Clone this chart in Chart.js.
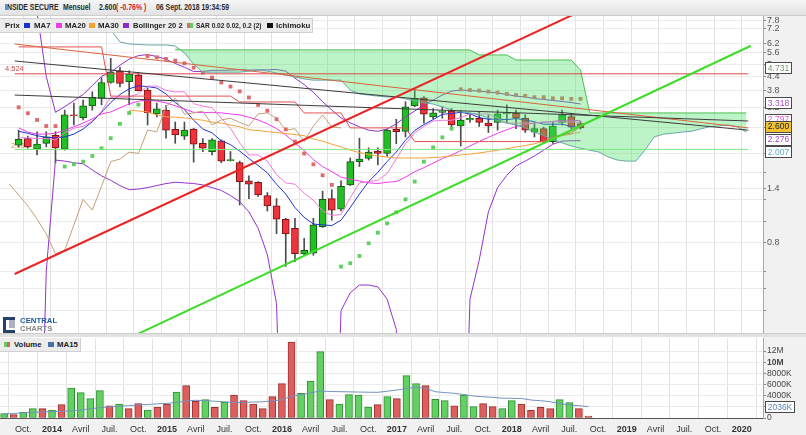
<!DOCTYPE html>
<html lang="fr"><head><meta charset="utf-8"><title>INSIDE SECURE - Mensuel</title>
<script src="https://cdn.jsdelivr.net/npm/chart.js@4.4.1/dist/chart.umd.min.js"></script>
<style>
html,body{margin:0;padding:0}
body{width:806px;height:435px;overflow:hidden;background:#fff;position:relative;font-family:"Liberation Sans",Arial,sans-serif}
canvas{position:absolute;left:0}
#cMain{top:0}
#cVol{top:337px}
.ov{position:absolute;white-space:nowrap}
#hdr{left:0;top:0;width:806px;height:15px;background:linear-gradient(#f6f6f6,#e2e2e2);border-bottom:1px solid #cdcdcd;font-size:8.2px;font-weight:bold;color:#2b2b2b}
#hdr span{position:absolute;top:2.5px;transform:scaleX(0.84);transform-origin:0 0}
#leg{left:0;top:18px;width:312px;height:13px;background:#ececec;border:1px solid #d0d0d0;border-left:none;font-size:7.8px;font-weight:bold;color:#222}
#leg span,#vleg span{position:absolute;top:2px;transform-origin:0 0}
#leg i,#vleg i{position:absolute;top:4px;width:6px;height:5px;display:block}
#sep{left:0;top:333px;width:806px;height:3px;background:#e2e2e2;border-top:1px solid #cdcdcd}
#vleg{left:0;top:338px;width:80px;height:13px;background:#ececec;border:1px solid #d0d0d0;border-left:none;border-top:none;font-size:7.8px;font-weight:bold;color:#222}
#logo{left:3px;top:316px;width:60px;height:16px}
</style></head>
<body>
<canvas id="cMain" width="806" height="335"></canvas>
<canvas id="cVol" width="806" height="98"></canvas>
<div id="sep" class="ov"></div>
<div id="hdr" class="ov">
 <span style="left:5px">INSIDE SECURE</span>
 <span style="left:63px">Mensuel</span>
 <span style="left:99px">2.600</span>
 <span style="left:116px;color:#d02020">( -0.76% )</span>
 <span style="left:156px">06 Sept. 2018 19:34:59</span>
</div>
<div id="leg" class="ov">
 <span style="left:5px">Prix</span>
 <i style="left:24px;background:#1a2fd0"></i><span style="left:34px">MA7</span>
 <i style="left:56px;background:#f03cf0"></i><span style="left:65px">MA20</span>
 <i style="left:89px;background:#f5a030"></i><span style="left:98px">MA30</span>
 <i style="left:123px;background:#8a2cc8"></i><span style="left:133px;transform:scaleX(0.97)">Bollinger 20 2</span>
 <i style="left:187px;background:linear-gradient(90deg,#e06a6a 50%,#5fcf5f 50%)"></i><span style="left:196px;transform:scaleX(0.84)">SAR 0.02 0.02, 0.2 (2)</span>
 <i style="left:267px;background:#111"></i><span style="left:276px">Ichimoku</span>
</div>
<div id="vleg" class="ov">
 <i style="left:4px;background:linear-gradient(90deg,#5fcf5f 50%,#df5f5f 50%)"></i><span style="left:14px">Volume</span>
 <i style="left:48px;background:#4a6fa5"></i><span style="left:57px">MA15</span>
</div>
<div id="logo" class="ov">
 <div style="position:absolute;left:0;top:1px;width:9px;height:10px;border:3px solid #25426c;border-right:none"></div>
 <div style="position:absolute;left:6px;top:4px;width:6px;height:8px;background:#aab3bf"></div>
 <span style="position:absolute;left:17px;top:0;font:bold 7.8px 'Liberation Sans',Arial;color:#1f5a9a">CENTRAL</span>
 <span style="position:absolute;left:17px;top:8px;font:bold 7.8px 'Liberation Sans',Arial;color:#8a8a8a">CHARTS</span>
</div>
<script>
// ---------- DATA (monthly, index 0 = Aug 2013 ... 61 = Sept 2018) ----------
const opens  = [2.18,2.33,2.09,2.22,2.41,2.09,2.97,2.89,3.26,3.52,4.14,4.65,4.17,4.47,3.83,3.00,3.12,2.56,2.39,2.57,2.22,2.04,2.28,1.86,1.82,1.51,1.49,1.30,1.17,1.02,0.93,0.714,0.721,0.946,1.26,1.13,1.45,1.84,1.90,2.05,2.00,2.56,2.51,3.26,3.54,2.91,3.05,3.09,2.65,2.82,2.87,2.73,2.75,3.01,3.02,2.87,2.49,2.58,2.26,2.75,2.92,2.72];
const highs  = [2.54,2.39,2.50,2.50,2.50,3.12,3.35,3.46,3.76,4.35,5.30,4.83,4.66,4.57,3.92,3.35,3.27,2.76,2.76,2.59,2.33,2.33,2.30,2.04,1.85,1.59,1.50,1.34,1.26,1.03,1.03,0.838,1.03,1.36,1.38,1.51,1.91,2.34,2.12,2.12,2.56,2.84,3.40,3.83,3.58,3.17,3.23,3.17,3.12,3.01,3.07,2.97,3.12,3.29,3.12,2.97,2.75,2.62,2.78,3.12,3.02,2.78];
const lows   = [2.14,2.11,1.97,2.14,1.82,2.07,2.68,2.82,3.12,3.29,4.11,3.96,3.29,3.80,2.68,2.91,2.34,2.22,2.31,1.83,2.04,1.97,1.82,1.85,1.18,1.26,1.29,1.11,0.88,0.629,0.661,0.709,0.705,0.937,1.01,1.11,1.44,1.75,1.87,1.78,1.94,2.21,2.37,3.23,2.73,2.86,2.87,2.62,2.16,2.75,2.64,2.48,2.54,2.75,2.58,2.48,2.37,2.24,2.22,2.68,2.58,2.57];
const closes = [2.31,2.14,2.20,2.37,2.12,2.97,2.94,3.26,3.56,4.14,4.62,4.10,4.51,3.81,3.03,3.16,2.54,2.42,2.54,2.20,2.11,2.30,1.85,1.88,1.50,1.46,1.31,1.17,1.02,0.878,0.716,0.742,0.963,1.25,1.12,1.43,1.84,1.89,2.03,2.00,2.54,2.50,3.23,3.52,2.99,3.03,3.09,2.68,2.82,2.87,2.75,2.65,3.00,3.03,2.87,2.54,2.58,2.26,2.65,2.97,2.62,2.60];
const volumesM = [0.78,0.6,1.07,1.67,1.67,1.43,2.39,5.37,4.54,3.46,4.9,2.2,2.5,1.67,2.57,1.43,1.97,2.5,4.66,5.79,2.99,3.28,1.91,2.87,4.12,3.1,2.5,1.67,3.82,6.15,13.6,4.42,6.63,11.9,3.28,2.5,4.18,4.12,1.97,2.39,3.82,3.46,7.58,6.15,5.79,3.34,3.1,2.2,4.12,2.03,2.57,2.03,1.67,3.1,2.5,1.37,1.91,1.67,3.28,2.75,1.67,0.36];
const volUp = [1,0,1,1,0,1,0,1,1,1,1,0,1,0,0,1,0,0,1,0,0,1,0,1,0,0,0,0,0,0,0,1,1,1,0,1,1,1,1,0,1,0,1,1,0,1,1,0,1,1,0,0,1,1,0,0,0,0,1,1,0,0];
const volMA15 = [0.72,0.82,0.92,1.02,1.08,1.14,1.2,1.27,1.45,1.65,1.84,1.98,2.1,2.22,2.33,2.43,2.53,2.63,2.78,3.05,3.17,3.1,3.0,2.9,2.78,2.8,2.85,2.9,3.05,3.25,3.94,4.2,4.5,4.84,4.75,4.72,4.68,4.65,4.62,4.6,4.8,5.0,5.3,5.5,5.32,4.71,4.55,4.42,4.2,3.94,3.81,3.7,3.55,3.53,3.5,3.22,3.1,2.92,2.6,2.33,2.2,2.036];
const sar = [3.21,3.02,2.82,2.65,2.65,1.75,1.79,1.84,1.95,2.11,2.34,2.71,3.03,3.30,5.43,5.36,5.27,5.18,5.04,4.82,4.58,4.35,4.14,3.97,3.78,3.55,3.29,3.10,2.84,2.56,2.26,2.00,1.79,1.60,1.45,0.628,0.650,0.700,0.797,0.889,0.978,1.095,1.25,1.50,1.84,2.13,2.36,2.58,3.86,3.83,3.81,3.77,3.73,3.68,3.64,3.61,3.56,3.56,3.52,3.52,3.50,3.50];
const ma7 = [2.51,2.46,2.40,2.36,2.35,2.37,2.44,2.57,2.77,3.05,3.37,3.66,3.88,4.0,3.97,3.91,3.68,3.37,3.14,2.81,2.57,2.47,2.28,2.19,2.05,1.90,1.77,1.64,1.46,1.32,1.15,1.04,0.971,0.963,0.956,1.01,1.15,1.32,1.50,1.65,1.84,2.03,2.29,2.53,2.69,2.83,2.99,3.01,3.05,3.0,2.89,2.84,2.84,2.83,2.86,2.82,2.77,2.70,2.70,2.70,2.64,2.60];
const ma20 = [2.60,2.49,2.44,2.44,2.46,2.54,2.63,2.73,2.85,3.00,3.06,3.19,3.32,3.42,3.46,3.42,3.36,3.26,3.16,3.05,3.04,3.05,3.03,3.00,2.97,2.90,2.82,2.71,2.58,2.42,2.23,2.06,1.88,1.75,1.66,1.57,1.535,1.51,1.48,1.47,1.49,1.50,1.57,1.66,1.73,1.81,1.90,1.97,2.06,2.16,2.26,2.36,2.46,2.55,2.64,2.69,2.73,2.75,2.78,2.81,2.81,2.80];
const ma30 = [null,null,null,null,null,null,null,null,null,null,null,null,3.12,3.09,3.06,2.97,2.91,2.90,2.88,2.85,2.81,2.76,2.73,2.68,2.63,2.55,2.53,2.50,2.48,2.45,2.43,2.40,2.32,2.27,2.20,2.14,2.07,2.02,1.98,1.95,1.93,1.91,1.91,1.91,1.91,1.92,1.93,1.95,1.97,1.99,2.01,2.04,2.07,2.10,2.14,2.17,2.21,2.27,2.34,2.40,2.44,2.49];
const bollUpper = [12,10.5,8.5,4.4,3.05,3.23,3.44,3.66,4.01,4.41,4.60,4.94,5.26,5.45,5.51,5.40,5.25,5.03,4.84,4.63,4.63,4.69,4.69,4.70,4.72,4.70,4.71,4.71,4.73,4.65,4.33,4.05,3.74,3.40,3.12,2.88,2.74,2.63,2.54,2.51,2.57,2.71,2.91,3.09,3.29,3.46,3.64,3.79,3.83,3.81,3.79,3.75,3.72,3.66,3.60,3.57,3.51,3.48,3.44,3.41,3.37,3.32];
const bollLower = [0.02,0.02,0.02,0.6,1.87,1.85,1.82,1.80,1.69,1.59,1.52,1.44,1.38,1.39,1.41,1.44,1.47,1.49,1.48,1.47,1.45,1.41,1.37,1.30,1.22,1.10,0.93,0.71,0.43,0.02,0.02,0.02,0.02,0.02,0.02,0.40,0.48,0.52,0.52,0.51,0.45,0.33,0.02,0.02,0.02,0.02,0.02,0.02,0.02,0.45,0.67,1.10,1.41,1.60,1.76,1.85,1.95,2.07,2.20,2.27,2.28,2.28];
const tenkan = [2.35,2.35,2.33,2.33,2.30,2.47,2.59,2.64,2.79,3.09,3.56,3.56,3.56,3.69,3.99,3.99,3.82,3.76,3.76,3.33,3.25,3.20,2.87,2.59,2.23,1.97,1.97,1.85,1.61,1.48,1.46,1.33,1.24,1.11,1.06,1.07,1.27,1.48,1.50,1.52,1.63,1.89,2.21,2.47,2.64,2.79,2.81,2.81,2.89,3.0,3.0,3.0,2.87,2.73,2.73,2.73,2.73,2.77,2.76,2.76,2.76,2.76];
const kijun = [5.96,5.96,5.96,5.96,5.96,5.96,5.96,5.96,5.96,5.96,3.60,3.60,3.60,3.60,3.60,3.60,3.60,3.60,3.60,3.60,3.60,3.60,3.60,3.60,3.39,3.39,3.39,3.39,3.39,3.39,3.39,3.03,3.03,3.03,3.03,3.03,2.60,2.60,2.60,2.60,2.60,2.60,2.60,2.26,2.26,2.26,2.26,2.26,2.26,2.26,2.26,2.26,2.26,2.26,2.26,2.26,2.26,2.26,2.38,2.42,2.47,2.64];
const spanAStart = 10; // Senkou A, months 10..79
const spanA = [7.09,6.27,6.14,6.11,6.08,6.08,6.08,6.02,5.60,5.00,4.60,4.60,4.60,4.60,4.60,4.65,4.70,4.65,4.56,4.47,4.38,4.29,4.24,4.24,4.24,4.24,3.83,3.68,3.64,3.60,3.57,3.57,3.50,3.42,3.36,3.32,3.22,3.12,3.06,3.03,2.97,2.88,2.79,2.73,2.68,2.60,2.49,2.40,2.30,2.23,2.16,2.11,2.07,2.03,1.93,1.87,1.85,1.85,2.07,2.37,2.44,2.46,2.49,2.51,2.57,2.63,2.65,2.68,2.63,2.49];
const spanBStart = 17; // Senkou B, months 17..79
const spanB = [5.78,5.78,5.78,5.78,5.78,5.78,5.78,5.78,5.78,5.78,5.78,5.78,5.78,5.78,5.78,5.78,5.78,5.78,5.78,5.78,5.78,5.78,5.78,5.78,5.78,5.78,5.78,5.78,5.78,5.78,5.78,5.78,5.78,5.49,5.49,5.49,5.49,5.21,5.21,5.21,5.21,5.21,5.21,5.21,4.70,3.03,3.03,3.03,3.03,3.03,3.03,3.03,3.03,3.03,3.03,3.03,3.03,3.03,3.03,3.03,3.03,3.03,3.03];
const chikouShift = 26;
// drawn trend lines: [month, price] end points
const trendRed   = [[-0.43,0.582],[62,8.97]];
const trendGreen = [[12,0.302],[79.5,6.03]];
const trendDarkA = [[-0.43,5.16],[79.22,2.54]];
const trendDarkB = [[-0.43,3.64],[79.22,2.79]];
const trendOrange= [[-0.43,6.14],[79.22,2.60]];
const levelRed = 4.524, levelGreen = 2.085;
// axes
const xMin = -0.43, xMax = 79.22;
const xTicks = [2,5,8,11,14,17,20,23,26,29,32,35,38,41,44,47,50,53,56,59,62,65,68,71,74,77];
const xTickLabels = ['Oct.','2014','Avril','Juil.','Oct.','2015','Avril','Juil.','Oct.','2016','Avril','Juil.','Oct.','2017','Avril','Juil.','Oct.','2018','Avril','Juil.','Oct.','2019','Avril','Juil.','Oct.','2020'];
const priceGrid = [0.4,0.5,0.6,0.8,1.0,1.25,1.4,1.65,2.0,2.6,3.2,3.8,4.4,5.0,5.6,6.2,7.2,7.8];
const priceLabels = {0.8:'0.8',1.4:'1.4',2.0:'2',2.6:'2.6',3.2:'3.2',3.8:'3.8',4.4:'4.4',5.0:'5',5.6:'5.6',6.2:'6.2',7.2:'7.2',7.8:'7.8'};
const yMin = 0.318, yMax = 8.18;
const volTicks = [0,2,4,6,8,10,12];
const volTickLabels = ['0','2000K','4000K','6000K','8000K','10M','12M'];
const volMax = 14.33;
const priceBoxes = [
  {v:2.493,t:'2.493',c:'#e8963a',bg:'#fff'},
  {v:2.797,t:'2.797',c:'#e050e0',bg:'#fff'},
  {v:2.276,t:'2.276',c:'#a24cc4',bg:'#fff'},
  {v:2.007,t:'2.007',c:'#62a8c8',bg:'#fff'},
  {v:3.318,t:'3.318',c:'#a24cc4',bg:'#fff'},
  {v:4.731,t:'4.731',c:'#6d9c6d',bg:'#fff'},
  {v:2.600,t:'2.600',c:'#222',bg:'#f2c230'}
];

// ---------- CHARTS ----------
Chart.defaults.font.family = "'Liberation Sans', Arial, sans-serif";
Chart.defaults.animation = false;
const CLOUD = 'rgba(70,225,100,0.36)';
const pts = arr => arr.map((v,i)=>({x:i,y:v}));
const seg = p => p.map(q=>({x:q[0],y:q[1]}));
const line = (label,data,color,extra) => Object.assign({type:'line',label,data,borderColor:color,borderWidth:1,pointRadius:0,pointHoverRadius:0,fill:false,tension:0,order:12},extra||{});
const noPad = s => { s.paddingTop = 0; s.paddingBottom = 0; s.paddingLeft = 0; s.paddingRight = 0; };

const ds = [];
ds.push(line('Oblique rouge', seg(trendRed), '#ea2424', {borderWidth:2, order:1}));
ds.push(line('Oblique verte', seg(trendGreen), '#3fdc2a', {borderWidth:2, order:1}));
ds.push(line('Oblique A', seg(trendDarkA), '#3c3c3c', {order:2}));
ds.push(line('Oblique B', seg(trendDarkB), '#3c3c3c', {order:2}));
ds.push(line('Oblique C', seg(trendOrange), '#d8643c', {order:2}));
ds.push(line('Niveau 4.524', [{x:xMin,y:levelRed},{x:xMax,y:levelRed}], '#d84848', {order:2}));
ds.push(line('Niveau 2.085', [{x:xMin,y:levelGreen},{x:xMax,y:levelGreen}], '#7ee87e', {order:2}));
const iB = ds.length;
ds.push(line('Senkou B', spanB.map((v,k)=>({x:k+spanBStart,y:v})), '#4cbf4c', {order:5}));
ds.push(line('Senkou A', spanA.slice(spanBStart-spanAStart).map((v,k)=>({x:k+spanBStart,y:v})), '#6aa6a6', {order:5, fill:{target:iB, above:CLOUD, below:CLOUD}}));
ds.push(line('Senkou A début', spanA.slice(0,spanBStart-spanAStart+1).map((v,k)=>({x:k+spanAStart,y:v})), '#6aa6a6', {order:5}));
ds.push({type:'line',label:'SAR',data:pts(sar),showLine:false,pointStyle:'rect',pointRadius:2.7,pointHoverRadius:2.7,pointBorderWidth:0,
  pointBackgroundColor:sar.map((v,i)=> v>highs[i] ? '#e06a6a' : '#5fcf5f'),order:10});
ds.push(line('Chikou', closes.map((v,i)=>({x:i-chikouShift,y:v})), '#c4a07c'));
ds.push(line('Kijun', pts(kijun), '#e25050'));
ds.push(line('Tenkan', pts(tenkan), '#f07ad8'));
ds.push(line('Bollinger haut', pts(bollUpper), '#9333cc'));
ds.push(line('Bollinger bas', pts(bollLower), '#9333cc'));
ds.push(line('MA30', pts(ma30), '#f2a23a'));
ds.push(line('MA20', pts(ma20), '#ee3cee'));
ds.push(line('MA7', pts(ma7), '#1f35d2'));
ds.push({type:'bar',label:'Mèches',data:highs.map((h,i)=>({x:i,y:[lows[i],h]})),backgroundColor:'#4d4d4d',barThickness:1,grouped:false,order:21});
ds.push({type:'bar',label:'Prix',data:opens.map((o,i)=>({x:i,y:[Math.min(o,closes[i]),Math.max(o,closes[i])]})),
  backgroundColor:opens.map((o,i)=> closes[i]>=o ? '#22bf22' : '#f0323c'),
  borderColor:opens.map((o,i)=> closes[i]>=o ? '#145a14' : '#7a1212'),
  borderWidth:1,borderSkipped:false,barThickness:7,grouped:false,order:20});

const bgPlugin = {id:'bg', beforeDraw(c){
  const {ctx,chartArea:a,width,height} = c;
  ctx.save();
  ctx.fillStyle = '#f1f1f1';
  ctx.fillRect(a.right,0,width-a.right,height);
  if (c.canvas.id==='cVol') ctx.fillRect(0,a.bottom,a.right,height-a.bottom);
  ctx.fillStyle = '#fff';
  ctx.fillRect(a.left,a.top,a.right-a.left,a.bottom-a.top);
  ctx.restore();
}};

function box(ctx,x,yc,w,t,color,bg){
  ctx.fillStyle = bg; ctx.fillRect(x+0.5,Math.round(yc-5.5)+0.5,w,11);
  ctx.strokeStyle = '#4a4a4a'; ctx.lineWidth = 1; ctx.strokeRect(x+0.5,Math.round(yc-5.5)+0.5,w,11);
  ctx.fillStyle = color; ctx.textAlign='center'; ctx.textBaseline='middle';
  ctx.font = "8.5px 'Liberation Sans', Arial, sans-serif";
  ctx.fillText(t,x+w/2+0.5,Math.round(yc)+1);
}

const mainAnnot = {id:'mainAnnot',
  beforeDatasetsDraw(c){
    const {ctx} = c, y = c.scales.y;
    ctx.save(); ctx.font = "7px 'Liberation Sans', Arial, sans-serif"; ctx.fillStyle = '#e0903a';
    ctx.textBaseline='alphabetic'; ctx.fillText(String(levelGreen),11,y.getPixelForValue(levelGreen)-1.5); ctx.restore();
  },
  afterDatasetsDraw(c){
    const {ctx} = c, y = c.scales.y;
    ctx.save();
    ctx.font = "7.5px 'Liberation Sans', Arial, sans-serif"; ctx.fillStyle = '#d84848'; ctx.textBaseline='alphabetic';
    ctx.fillText(String(levelRed),5,y.getPixelForValue(levelRed)-3);
    priceBoxes.forEach(b=> box(ctx,765,y.getPixelForValue(b.v)-1.5,26,b.t,b.c,b.bg));
    ctx.restore();
  }
};
const volAnnot = {id:'volAnnot', afterDatasetsDraw(c){
  const {ctx} = c, y = c.scales.y; ctx.save();
  const v = volMA15[volMA15.length-1];
  box(ctx,765,y.getPixelForValue(v),29,Math.round(v*1000)+'K','#5f86b8','#fff');
  ctx.restore();
}};

const xScaleBase = {type:'linear',min:xMin,max:xMax,bounds:'data',
  afterBuildTicks:s=>{s.ticks = xTicks.map(v=>({value:v})); s.min = xMin; s.max = xMax;},
  grid:{color:'#e3e3e3',drawTicks:false}, border:{display:false}};

new Chart(document.getElementById('cMain'), {
  type:'line',
  data:{datasets:ds},
  options:{responsive:false,animation:false,events:[],
    layout:{autoPadding:false,padding:{top:16,bottom:2,left:0,right:0}},
    plugins:{legend:{display:false},tooltip:{enabled:false}},
    scales:{
      x:Object.assign({},xScaleBase,{ticks:{display:false},afterFit:s=>{s.height=0; noPad(s);}}),
      y:{type:'logarithmic',position:'right',min:yMin,max:yMax,bounds:'data',
        afterBuildTicks:s=>{s.ticks = priceGrid.map(v=>({value:v})); s.min = yMin; s.max = yMax;},
        afterFit:s=>{s.width=43; noPad(s);},
        grid:{color:'#ebebeb',tickLength:3,tickColor:'#888'},
        border:{display:true,color:'#a8a8a8'},
        ticks:{autoSkip:false,padding:1,color:'#555',font:{size:9},callback:v=> priceLabels[v]!==undefined ? priceLabels[v] : ''}}
    }},
  plugins:[bgPlugin,mainAnnot]
});

new Chart(document.getElementById('cVol'), {
  type:'bar',
  data:{datasets:[
    {type:'line',label:'MA15',data:pts(volMA15),borderColor:'#7392bf',borderWidth:1,pointRadius:0,tension:0,order:1},
    {type:'bar',label:'Volume',data:pts(volumesM),barThickness:7,grouped:false,borderWidth:1,borderSkipped:false,order:2,
      backgroundColor:volUp.map(u=>u?'#62d062':'#de5e5e'),borderColor:volUp.map(u=>u?'#2f8f2f':'#993030')}
  ]},
  options:{responsive:false,animation:false,events:[],
    layout:{autoPadding:false,padding:{top:1,bottom:0,left:0,right:0}},
    plugins:{legend:{display:false},tooltip:{enabled:false}},
    scales:{
      x:Object.assign({},xScaleBase,{offset:false,border:{display:true,color:'#555'},
        afterFit:s=>{s.height=17; noPad(s);},
        ticks:{autoSkip:false,maxRotation:0,padding:6,color:'#333',
          font:c=>({size:9,weight: /^\d{4}$/.test(xTickLabels[c.index]||'') ? 'bold':'normal'}),
          callback:(v,i)=>xTickLabels[i]}}),
      y:{type:'linear',position:'right',min:0,max:volMax,bounds:'data',
        afterBuildTicks:s=>{s.ticks = volTicks.map(v=>({value:v})); s.min = 0; s.max = volMax;},
        afterFit:s=>{s.width=43; noPad(s);},
        grid:{color:'#ebebeb',tickLength:3,tickColor:'#888'},
        border:{display:true,color:'#a8a8a8'},
        ticks:{autoSkip:false,padding:1,color:'#444',
          font:c=>({size:8.5,weight:(c.tick&&c.tick.value===10)?'bold':'normal'}),
          callback:(v,i)=>volTickLabels[i]}}
    }},
  plugins:[bgPlugin,volAnnot]
});
</script>
</body></html>
